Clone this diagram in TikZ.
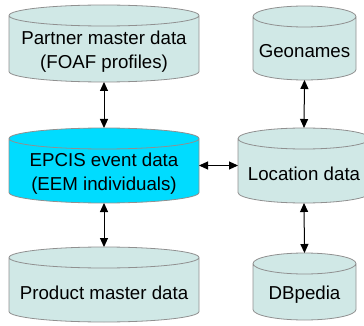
\documentclass[tikz,border=0pt]{standalone}
\usepackage{fontspec}
\setmainfont{Liberation Sans}
\usetikzlibrary{arrows.meta, calc}

\definecolor{dbpale}{HTML}{D0E8E6}
\definecolor{dbcyan}{HTML}{00DCFF}
\definecolor{dbedge}{HTML}{909090}
\def\dbry{10.5pt}

\tikzset{
  dbshape/.style 2 args={minimum width=#1, minimum height=#2, inner sep=0pt, outer sep=0pt},
  dbtext/.style={align=center, inner sep=0pt, font=\fontsize{18.7}{23.5}\selectfont},
  link/.style={{Triangle[length=9pt,width=8pt]}-{Triangle[length=9pt,width=8pt]}, line width=1pt}
}

\begin{document}
\begin{tikzpicture}[x=1pt, y=-1pt]
    \useasboundingbox (0,0) rectangle (364,326);

    % Database outlines
    \node[dbshape={190pt}{77pt}] (partner) at (104, 43.5) {};
    \node[dbshape={103pt}{74pt}] (geo) at (304.5, 43) {};
    \node[dbshape={190pt}{75pt}] (epcis) at (104, 165.5) {};
    \node[dbshape={132pt}{75pt}] (loc) at (304, 165.5) {};
    \node[dbshape={190pt}{75pt}] (product) at (104, 284.5) {};
    \node[dbshape={103pt}{67pt}] (dbp) at (304.5, 286.5) {};

    \foreach \db/\col in {partner/dbpale, geo/dbpale, epcis/dbcyan, loc/dbpale, product/dbpale, dbp/dbpale}
        \draw[dbedge, line width=0.8pt, fill=\col]
            let \p1=(\db.north west), \p2=(\db.south east), \n1={(\x2-\x1)/2} in
            (\x1,\y1-\dbry) -- (\x1,\y2+\dbry)
            arc[start angle=180, end angle=360, x radius=\n1, y radius=\dbry]
            -- (\x2,\y1-\dbry)
            arc[start angle=0, end angle=180, x radius=\n1, y radius=\dbry] -- cycle
            (\x1,\y1-\dbry) arc[start angle=180, end angle=360, x radius=\n1, y radius=\dbry];

    % Labels
    \node[dbtext] (partner-t) at ([yshift=-8pt]partner.center) {Partner master data\\(FOAF profiles)};
    \node[dbtext] (geo-t) at ([yshift=-8pt]geo.center) {Geonames};
    \node[dbtext] (epcis-t) at ([yshift=-8pt]epcis.center) {EPCIS event data\\(EEM individuals)};
    \node[dbtext] (loc-t) at ([yshift=-8pt]loc.center) {Location data};
    \node[dbtext] (product-t) at ([yshift=-8pt]product.center) {Product master data};
    \node[dbtext] (dbp-t) at ([yshift=-8pt]dbp.center) {DBpedia};

    % Links
    \draw[link] (partner.south) -- (epcis.north);
    \draw[link] (epcis.south) -- (product.north);
    \draw[link] (geo.south) -- (loc.north);
    \draw[link] (loc.south) -- (dbp.north);
    \draw[link] (epcis.east) -- (loc.west);
\end{tikzpicture}
\end{document}
